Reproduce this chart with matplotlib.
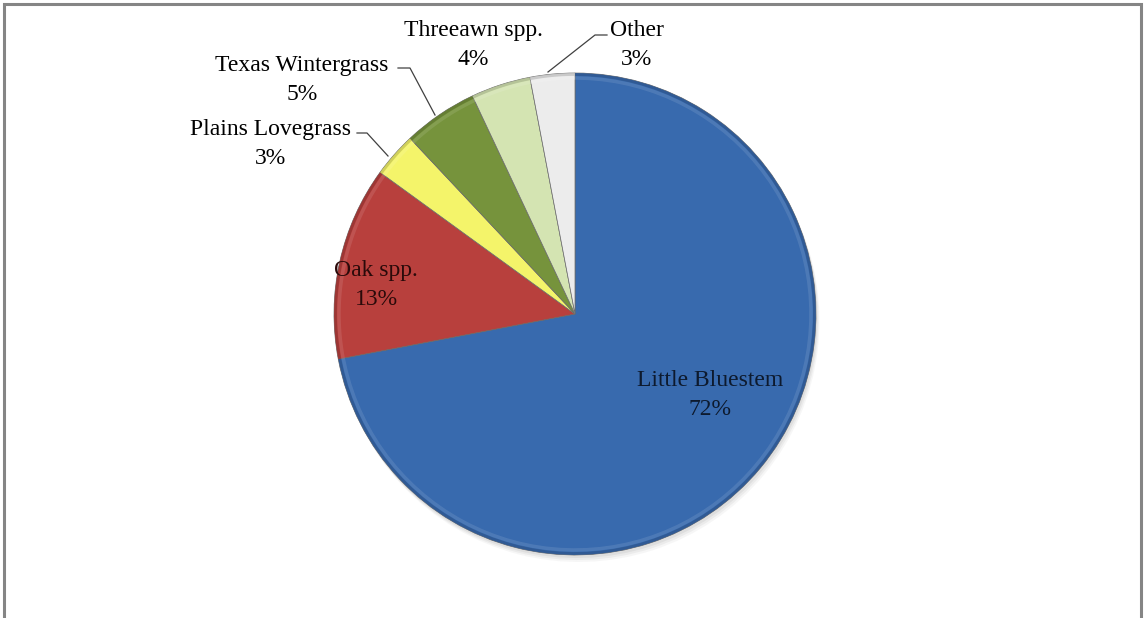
import numpy as np
import matplotlib.pyplot as plt
from matplotlib.patches import Rectangle

# composition of the stand, percent
species = ['Little Bluestem', 'Oak spp.', 'Plains Lovegrass',
           'Texas Wintergrass', 'Threeawn spp.', 'Other']
shares = [72, 13, 3, 5, 4, 3]
colors = ['#386AAE', '#B8403D', '#F4F46A', '#76933C', '#D4E4B2', '#ECECEC']

W, H = 1144, 618
fig = plt.figure(figsize=(W / 100, H / 100), dpi=100)
ax = fig.add_axes([0, 0, 1, 1])
ax.set_xlim(0, W)
ax.set_ylim(0, H)
ax.set_aspect('equal')
ax.axis('off')

cx, cy, r = 575, H - 314, 241

# soft drop shadow
for k, a in [(7, 0.05), (5, 0.07), (3, 0.09)]:
    ax.pie(shares, radius=r, center=(cx + k * 0.5, cy - k), startangle=90,
           counterclock=False, colors=['#606060'] * len(shares),
           wedgeprops=dict(alpha=a, linewidth=0), frame=True)

wedges, _ = ax.pie(shares, radius=r, center=(cx, cy), startangle=90,
                   counterclock=False, colors=colors,
                   wedgeprops=dict(edgecolor='#6a6a6a', linewidth=0.5),
                   frame=True)

# bevel along the rim of each slice
for w, c in zip(wedges, colors):
    rgb = np.array(plt.matplotlib.colors.to_rgb(c))
    light = np.clip(rgb + (1 - rgb) * 0.3, 0, 1)
    dark = rgb * 0.82
    t = np.linspace(np.radians(w.theta1), np.radians(w.theta2), 80)
    ax.plot(cx + (r - 1.5) * np.cos(t), cy + (r - 1.5) * np.sin(t),
            color=dark, lw=2, alpha=0.8, solid_capstyle='butt')
    ax.plot(cx + (r - 5) * np.cos(t), cy + (r - 5) * np.sin(t),
            color=light, lw=2.5, alpha=0.35, solid_capstyle='butt')

ax.set_xlim(0, W)
ax.set_ylim(0, H)

font = dict(family='Liberation Serif', fontsize=17,
            ha='center', va='center', linespacing=1.55)

labels = [f'{s}\n{v}%' for s, v in zip(species, shares)]

# label anchors (pixel positions, y measured from top)
ax.text(710, H - 395, labels[0], color='#0d1a2e', **font)
ax.text(376, H - 285, labels[1], color='#2a0a0a', **font)
ax.text(270, H - 144, labels[2], color='black', **font)
ax.text(302, H - 80, labels[3], color='black', **font)
ax.text(473, H - 45, labels[4], color='black', **font)
ax.text(637, H - 45, labels[5], color='black', **font)

# leader lines
lc = dict(color='#404040', lw=0.9)
ax.plot([357, 367, 388], [H - 133, H - 133, H - 156], **lc)
ax.plot([398, 410, 435], [H - 68, H - 68, H - 115], **lc)
ax.plot([607, 595, 548], [H - 35, H - 35, H - 72], **lc)

# chart border
ax.add_patch(Rectangle((4, -10), W - 7, H + 10 - 4, fill=False,
                       edgecolor='#858585', lw=2.2, clip_on=False))

fig.savefig('out.png', dpi=100, facecolor='white')
